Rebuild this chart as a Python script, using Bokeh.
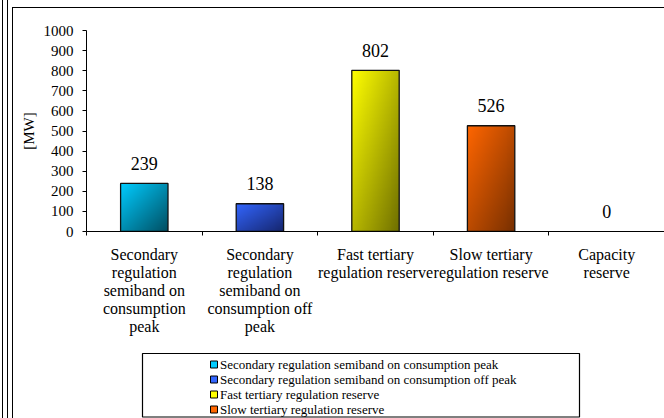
import numpy as np
from bokeh.plotting import figure
from bokeh.layouts import column
from bokeh.models import Range1d, FixedTicker
from bokeh.core.properties import value
from bokeh.embed import file_html
from bokeh.resources import INLINE

# ---- data ----
categories = [
    "Secondary\nregulation\nsemiband on\nconsumption\npeak",
    "Secondary\nregulation\nsemiband on\nconsumption off\npeak",
    "Fast tertiary\nregulation reserve",
    "Slow tertiary\nregulation reserve",
    "Capacity\nreserve",
]
legend_names = [
    "Secondary regulation semiband on consumption peak",
    "Secondary regulation semiband on consumption off peak",
    "Fast tertiary regulation reserve",
    "Slow tertiary regulation reserve",
]
values = [239, 138, 802, 526, 0]
y_ticks = [0, 100, 200, 300, 400, 500, 600, 700, 800, 900, 1000]

# gradient colours (light -> dark) per series
light = [(0, 204, 255), (51, 102, 255), (255, 255, 0), (255, 102, 0), (153, 153, 255)]
dark = [(0, 78, 98), (22, 38, 110), (112, 112, 0), (120, 48, 0), (60, 60, 120)]

FONT = "'Liberation Serif', 'Times New Roman', serif"
N = len(categories)
W, H = 664, 418
FL, FR, FT, FB = 86, 664, 30, 231   # main frame edges in page px
H1 = 244                            # height of the main figure

p = figure(width=W, height=H1, output_backend="svg", toolbar_location=None,
           x_range=Range1d(0, N), y_range=Range1d(0, 1000),
           min_border_left=FL, min_border_right=W - FR, min_border_top=FT,
           min_border_bottom=H1 - FB, tools="")
p.outline_line_color = None
p.xgrid.visible = False
p.ygrid.visible = False
p.background_fill_color = "white"
p.border_fill_color = None

# axes
ya = p.yaxis[0]
ya.ticker = FixedTicker(ticks=y_ticks)
ya.minor_tick_line_color = None
ya.major_tick_out = 4
ya.major_tick_in = 0
ya.major_label_standoff = 9
ya.major_label_text_font = FONT
ya.major_label_text_font_size = "15px"
ya.major_label_text_color = "black"
ya.axis_line_color = "black"
ya.major_tick_line_color = "black"
ya.axis_label = "[MW]"
ya.axis_label_text_font = FONT
ya.axis_label_text_font_size = "15px"
ya.axis_label_text_font_style = "normal"
ya.axis_label_text_color = "black"
ya.axis_label_standoff = 4

xa = p.xaxis[0]
xa.ticker = FixedTicker(ticks=[], minor_ticks=list(range(N + 1)))
xa.major_tick_line_color = None
xa.minor_tick_out = 4
xa.minor_tick_in = 0
xa.minor_tick_line_color = "black"
xa.axis_line_color = "black"

# bars with diagonal gradient
bw = 0.41
shown = [i for i, v in enumerate(values) if v > 0]
for i in shown:
    v = values[i]
    hh, ww = 120, 48
    img = np.empty((hh, ww), dtype=np.uint32)
    view = img.view(dtype=np.uint8).reshape((hh, ww, 4))
    u = np.linspace(0, 1, ww)[None, :]
    vv = 1 - np.linspace(0, 1, hh)[:, None]  # row 0 is bottom
    t = (u + vv) / 2.0
    for c in range(3):
        view[:, :, c] = np.clip(light[i][c] + (dark[i][c] - light[i][c]) * t, 0, 255).astype(np.uint8)
    view[:, :, 3] = 255
    p.image_rgba(image=[img], x=i + 0.5 - bw / 2, y=0, dw=bw, dh=v)

p.quad(left=[i + 0.5 - bw / 2 for i in shown],
       right=[i + 0.5 + bw / 2 for i in shown],
       bottom=[0] * len(shown), top=[values[i] for i in shown],
       fill_color=None, line_color="#111111", line_width=1.3)

# value labels
p.text(x=[i + 0.5 for i in range(N)], y=values,
       text=[str(v) for v in values], y_offset=-20,
       text_align="center", text_baseline="middle",
       text_font=value(FONT), text_font_size="18px", text_color="black")

# ---- lower figure: category labels and legend (same x scale, y in page px) ----
q = figure(width=W, height=H - H1, output_backend="svg", toolbar_location=None,
           x_range=p.x_range, y_range=Range1d(H, H1),
           min_border_left=FL, min_border_right=W - FR, min_border_top=0, min_border_bottom=0,
           x_axis_location=None, y_axis_location=None, tools="")
q.outline_line_color = None
q.xgrid.visible = False
q.ygrid.visible = False
q.background_fill_color = None
q.border_fill_color = None

def px(cx):
    return (cx - FL) / (FR - FL) * N

line_y0, line_dy = 254, 18
cx_, cy_, ct_ = [], [], []
for i, cat in enumerate(categories):
    for k, line in enumerate(cat.split("\n")):
        cx_.append(i + 0.5)
        cy_.append(line_y0 + k * line_dy)
        ct_.append(line)
q.text(x=cx_, y=cy_, text=ct_, text_align="center", text_baseline="middle",
       text_font=value(FONT), text_font_size="16px", text_color="black")

# legend
q.quad(left=[px(142)], right=[px(579)], top=[353], bottom=[416.5],
       fill_color="white", line_color="black", line_width=1.2)
row_y0, row_dy = 364, 15
ys = [row_y0 + k * row_dy for k in range(len(legend_names))]
q.quad(left=[px(210)] * len(ys), right=[px(217)] * len(ys),
       top=[y - 3.5 for y in ys], bottom=[y + 3.5 for y in ys],
       fill_color=["#%02x%02x%02x" % light[k] for k in range(len(ys))],
       line_color="black", line_width=1)
q.text(x=[px(219.5)] * len(ys), y=ys, text=legend_names, text_align="left",
       text_baseline="middle", text_font=value(FONT), text_font_size="13px",
       text_color="black")

layout = column(p, q, styles={
    "background": "linear-gradient(black,black) 2px 0 / 1px 100% no-repeat, "
                  "linear-gradient(black,black) 7px 0 / 1px 100% no-repeat, "
                  "linear-gradient(black,black) 12px 7px / 1px 100% no-repeat, "
                  "linear-gradient(black,black) 12px 7px / 100% 1px no-repeat, white"})

open("out.html", "w").write(file_html(layout, INLINE))
